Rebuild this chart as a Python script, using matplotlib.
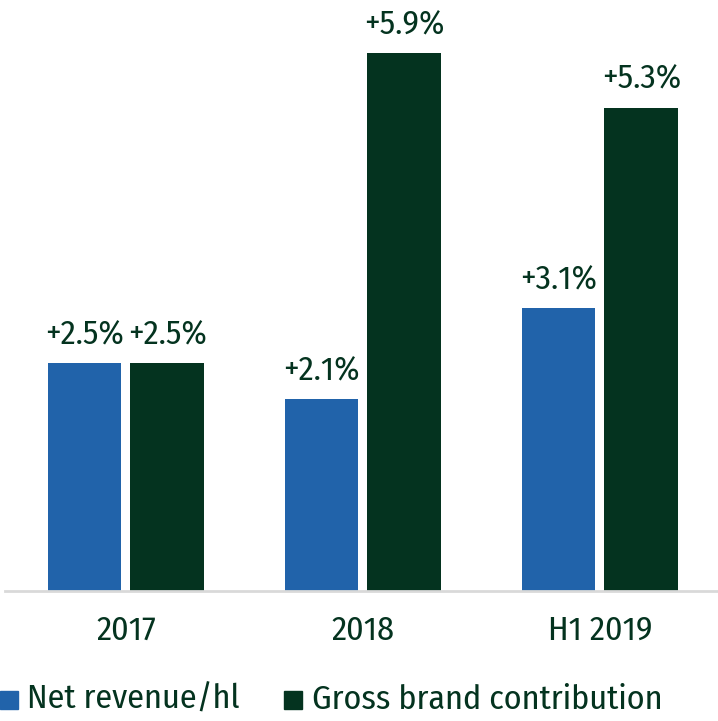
import numpy as np
import matplotlib.pyplot as plt
from matplotlib.patches import Rectangle
from matplotlib import font_manager

periods = ["2017", "2018", "H1 2019"]
net_revenue = [2.5, 2.1, 3.1]
gross_brand = [2.5, 5.9, 5.3]
series_names = ["Net revenue/hl", "Gross brand contribution"]

BLUE = "#2163AA"
GREEN = "#04331F"
TEXT = "#04331F"

# narrow humanist face if one is around, plain sans otherwise
names = {f.name for f in font_manager.fontManager.ttflist}
candidates = ["Fira Sans Condensed", "PT Sans Narrow", "Roboto Condensed",
              "Encode Sans Condensed", "Liberation Sans Narrow", "Lato"]
family = next(c for c in candidates if c in names or c == "Lato")
plt.rcParams["font.family"] = [family, "DejaVu Sans"]
FS = 24.5

fig = plt.figure(figsize=(7.18, 7.21), dpi=100)
W, H = 718, 721
ax = fig.add_axes([5 / W, 130 / H, 713 / W, 591 / H])

x = np.arange(len(periods))
width = 0.312
offset = 0.175
b1 = ax.bar(x - offset, net_revenue, width, color=BLUE)
b2 = ax.bar(x + offset, gross_brand, width, color=GREEN)

for bars, vals in ((b1, net_revenue), (b2, gross_brand)):
    for rect, v in zip(bars, vals):
        ax.annotate(f"+{v:.1f}%", (rect.get_x() + rect.get_width() / 2, v),
                    xytext=(0, 13.5), textcoords="offset points",
                    ha="center", va="baseline", fontsize=FS, color=TEXT)

ax.set_xlim(-0.5105, 2.498)
ax.set_ylim(0, 6.48)
ax.set_xticks(x)
ax.set_xticklabels(periods, fontsize=FS, color=TEXT)
ax.tick_params(axis="x", length=0, pad=17)
ax.set_yticks([])
for side in ("top", "right", "left"):
    ax.spines[side].set_visible(False)
ax.spines["bottom"].set_color("#d9d9d9")
ax.spines["bottom"].set_linewidth(2)

# legend row: square marker plus label, laid out in pixels
for sq_x, txt_x, color, label in ((0, 27, BLUE, series_names[0]),
                                  (284, 312, GREEN, series_names[1])):
    fig.patches.append(Rectangle((sq_x / W, 12 / H), 18 / W, 18 / H,
                                 transform=fig.transFigure, color=color))
    fig.text(txt_x / W, 12 / H, label, fontsize=FS, color=TEXT,
             ha="left", va="baseline")

fig.savefig("out.png", dpi=100)
